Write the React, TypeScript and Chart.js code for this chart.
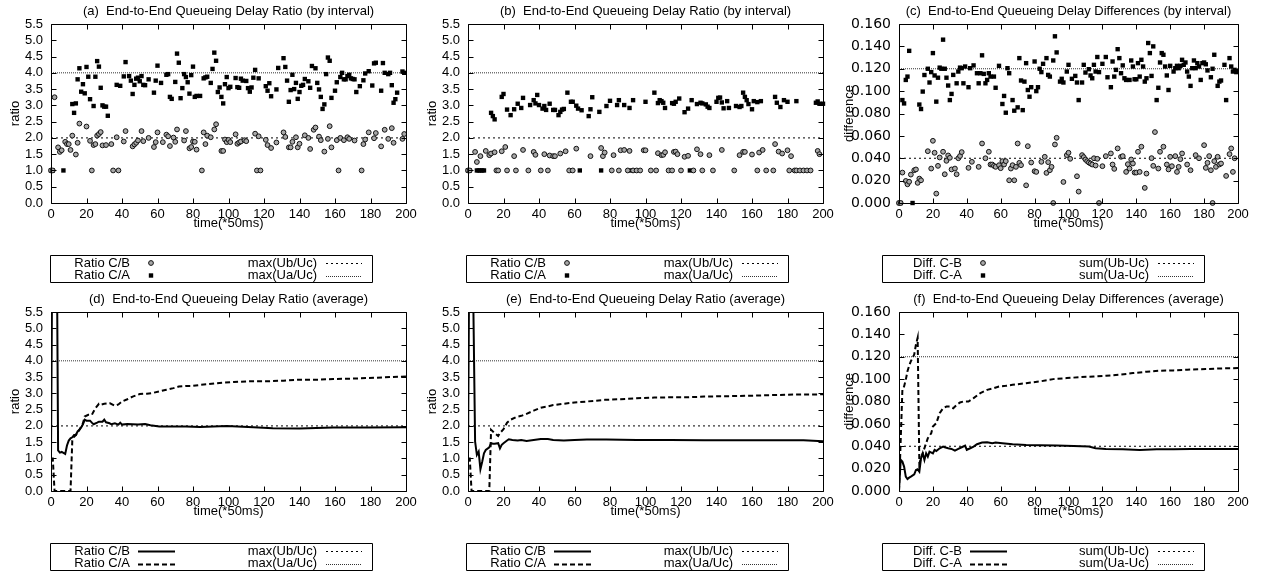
import React, { useEffect, useRef } from 'react';
import { Chart, registerables } from 'chart.js';

Chart.register(...registerables);

type Pt = [number, number];

// ---------- tick / reference values ----------
const X_TICK_STEP = 20;
const X_MAX = 200;
const RATIO_MAX = 5.5;
const RATIO_STEP = 0.5;
const DIFF_MAX = 0.16;
const DIFF_STEP = 0.02;
const RATIO_REF_UB = 2.0;
const RATIO_REF_UA = 4.0;
const DIFF_REF_UB = 0.04;
const DIFF_REF_UA = 0.12;

// ---------- (a) ratio by interval ----------
const aRatioCB: Pt[] = [[0,1.0],[1,1.0],[2,3.25],[4,1.71],[5,1.57],[6,1.62],[8,1.88],[9,1.81],[10,1.81],[11,1.63],[12,2.07],[14,1.49],[15,1.85],[16,2.44],[20,2.35],[22,1.91],[23,1.0],[24,1.78],[25,1.81],[26,2.07],[27,2.12],[28,2.18],[29,1.77],[31,1.78],[34,1.81],[35,1.0],[37,2.02],[38,1.0],[41,1.89],[42,2.21],[46,1.74],[47,1.8],[48,1.85],[49,1.92],[51,2.21],[52,1.9],[55,2.0],[58,1.72],[59,1.87],[60,2.17],[63,1.87],[65,2.1],[66,2.05],[67,1.75],[69,2.01],[70,1.88],[71,2.26],[75,1.92],[76,2.21],[78,1.68],[79,1.72],[80,1.89],[81,1.88],[82,1.64],[85,1.0],[86,2.17],[87,1.81],[88,2.07],[90,2.02],[92,2.26],[93,2.42],[96,1.6],[97,1.6],[98,1.95],[99,1.87],[100,1.94],[101,1.87],[104,2.11],[105,1.82],[106,1.86],[107,1.89],[109,1.93],[110,1.9],[115,2.13],[116,1.0],[117,2.05],[118,1.0],[121,1.94],[122,1.78],[124,1.69],[127,1.86],[131,2.17],[132,2.03],[134,1.71],[135,1.71],[136,1.88],[138,2.02],[139,1.71],[140,1.82],[143,2.08],[145,2.0],[146,1.66],[148,2.25],[149,2.32],[151,2.04],[152,1.93],[154,1.58],[156,1.97],[157,2.36],[158,1.71],[161,1.93],[162,1.0],[163,2.0],[165,1.93],[167,2.02],[168,1.97],[171,1.92],[175,1.0],[176,1.81],[177,1.95],[179,2.17],[182,1.99],[183,2.15],[186,1.74],[188,2.25],[190,1.97],[192,2.3],[193,1.85],[198,1.97],[199,2.12]];
const aRatioCA: Pt[] = [[0,1.0],[1,1.0],[7,1.0],[12,3.04],[13,2.77],[14,3.06],[15,3.8],[16,4.14],[17,3.42],[18,3.65],[19,3.37],[20,4.18],[21,3.88],[22,3.19],[24,2.98],[25,3.88],[26,4.36],[27,4.19],[28,3.54],[29,3.0],[30,2.96],[31,2.96],[32,2.68],[37,3.63],[39,3.6],[41,3.89],[42,4.33],[44,3.9],[45,3.76],[46,3.35],[47,3.63],[48,3.82],[49,3.85],[50,3.74],[51,3.9],[52,3.63],[53,3.62],[55,3.8],[58,3.39],[59,3.76],[60,4.22],[62,3.69],[65,3.94],[66,3.96],[67,3.26],[68,3.2],[70,3.72],[71,4.59],[72,4.31],[73,3.22],[74,3.53],[75,3.96],[76,3.87],[77,3.71],[78,3.36],[79,3.93],[80,4.19],[81,3.26],[82,3.29],[84,3.29],[86,3.83],[87,3.86],[88,3.88],[90,3.69],[91,4.12],[92,4.62],[93,4.37],[94,3.41],[95,3.55],[96,3.26],[97,3.06],[98,3.65],[99,3.87],[100,3.53],[101,3.57],[104,3.84],[105,3.56],[106,3.54],[107,3.82],[108,3.76],[110,3.75],[111,3.53],[112,3.42],[113,3.55],[114,3.85],[115,4.09],[117,3.83],[121,3.59],[122,3.45],[123,3.68],[124,3.28],[127,3.49],[128,4.15],[131,4.45],[132,4.18],[133,3.76],[134,3.11],[135,3.47],[136,3.94],[137,3.5],[138,3.69],[139,3.2],[140,3.41],[141,3.6],[142,3.63],[143,3.81],[145,3.74],[146,3.54],[147,4.21],[149,4.14],[150,3.69],[151,3.49],[152,3.26],[153,2.89],[154,3.03],[155,3.96],[156,4.47],[157,4.37],[158,3.23],[160,3.45],[161,3.71],[163,3.87],[164,4.0],[165,3.8],[166,3.8],[167,3.9],[168,3.94],[169,3.83],[170,3.81],[171,3.8],[172,3.41],[174,3.59],[176,3.77],[177,3.98],[179,4.05],[181,3.61],[182,4.29],[183,4.31],[186,3.45],[187,4.3],[188,4.0],[190,3.96],[191,4.0],[192,3.62],[193,3.08],[194,3.19],[195,3.39],[198,4.04],[199,4.0]];

// ---------- (b) ratio by interval ----------
const bRatioCB: Pt[] = [[0,1.0],[1,1.0],[4,1.57],[5,1.26],[7,1.44],[10,1.6],[12,1.47],[13,1.52],[15,1.56],[16,1.0],[17,1.0],[19,1.59],[21,1.72],[22,1.0],[26,1.44],[27,1.0],[31,1.63],[34,1.0],[37,1.57],[38,1.48],[41,1.0],[43,1.5],[45,1.0],[46,1.46],[48,1.44],[49,1.44],[52,1.52],[55,1.59],[57,1.0],[59,1.0],[61,1.67],[69,1.44],[75,1.69],[76,1.44],[77,1.55],[81,1.0],[82,1.47],[85,1.0],[86,1.62],[88,1.63],[90,1.0],[91,1.6],[93,1.0],[95,1.0],[97,1.0],[99,1.62],[100,1.62],[103,1.0],[106,1.0],[107,1.53],[109,1.47],[110,1.48],[111,1.56],[113,1.0],[115,1.0],[116,1.57],[117,1.58],[118,1.5],[120,1.0],[122,1.42],[124,1.45],[127,1.0],[129,1.65],[131,1.5],[132,1.0],[136,1.47],[138,1.0],[143,1.63],[150,1.0],[153,1.47],[155,1.57],[156,1.57],[160,1.49],[163,1.0],[164,1.55],[166,1.63],[168,1.0],[172,1.0],[173,1.81],[175,1.58],[177,1.52],[180,1.62],[181,1.0],[182,1.44],[184,1.0],[185,1.0],[187,1.0],[189,1.0],[191,1.0],[193,1.0],[197,1.6],[198,1.5]];
const bRatioCA: Pt[] = [[0,1.0],[1,1.0],[5,1.0],[6,1.0],[7,1.0],[8,1.0],[9,1.0],[13,2.77],[14,2.67],[15,2.57],[19,3.26],[20,3.35],[22,2.87],[24,2.7],[26,2.88],[28,3.05],[30,2.92],[31,3.23],[35,3.01],[37,3.16],[38,3.06],[39,3.32],[40,3.01],[42,2.9],[43,2.98],[44,2.86],[46,3.05],[48,2.86],[49,2.86],[51,2.7],[52,2.8],[53,2.87],[54,2.89],[56,3.39],[58,3.11],[59,3.11],[61,2.99],[62,2.9],[63,1.0],[64,2.85],[68,2.67],[69,2.88],[70,3.25],[74,2.8],[75,1.0],[78,2.98],[80,3.14],[84,3.01],[85,3.16],[88,3.01],[91,2.92],[92,1.0],[93,3.16],[100,3.11],[105,3.39],[107,3.07],[108,3.16],[109,3.13],[110,3.08],[111,2.92],[115,3.07],[116,3.05],[117,3.11],[119,3.21],[122,2.79],[124,2.9],[125,1.0],[126,3.16],[129,3.04],[131,3.08],[132,3.06],[134,3.03],[135,2.96],[136,2.92],[140,3.11],[141,3.23],[142,3.24],[143,3.09],[144,2.91],[146,3.13],[147,2.92],[151,2.98],[153,2.95],[154,2.98],[155,3.39],[156,3.26],[157,3.16],[158,3.04],[160,2.88],[161,3.13],[163,3.1],[165,3.13],[173,3.26],[174,3.08],[176,2.95],[178,3.16],[180,3.11],[185,3.13],[196,3.08],[197,3.12],[198,3.05],[200,3.05]];

// ---------- (c) difference by interval ----------
const cDiffCB: Pt[] = [[0,0],[1,0],[2,0.0272],[4,0.0197],[5,0.0167],[6,0.019],[7,0.0254],[9,0.0293],[10,0.03],[11,0.018],[12,0.0218],[13,0.0203],[17,0.0463],[19,0.0308],[20,0.0556],[21,0.0449],[22,0.0084],[23,0.0332],[24,0.0407],[26,0.0458],[27,0.0257],[28,0.0377],[29,0.0425],[30,0.0404],[31,0.03],[33,0.0308],[34,0.0257],[35,0.04],[36,0.042],[37,0.0455],[41,0.0314],[43,0.0368],[47,0.0323],[49,0.0532],[51,0.04],[53,0.0458],[54,0.0344],[55,0.0344],[56,0.0332],[57,0.0323],[59,0.0338],[60,0.0311],[61,0.0374],[62,0.0344],[63,0.0374],[65,0.0203],[66,0.0308],[67,0.0338],[68,0.0203],[69,0.0323],[70,0.0532],[71,0.0359],[72,0.0338],[75,0.0158],[76,0.0508],[78,0.0362],[80,0.0284],[81,0.0278],[84,0.0368],[86,0.0413],[87,0.0269],[88,0.0365],[89,0.0293],[90,0.0323],[91,0],[92,0.0523],[93,0.0583],[97,0.0188],[99,0.0428],[100,0.0449],[101,0.0395],[105,0.0239],[106,0.0102],[108,0.0428],[109,0.041],[110,0.0389],[111,0.0374],[112,0.0362],[113,0.0353],[114,0.0344],[115,0.04],[116,0.0335],[117,0.0395],[118,0],[120,0.0329],[122,0.0419],[125,0.0443],[126,0.0344],[127,0.0305],[129,0.0488],[131,0.0413],[132,0.0419],[134,0.0278],[135,0.0347],[136,0.0308],[137,0.0389],[138,0.0353],[139,0.0272],[140,0.0272],[141,0.0458],[142,0.0278],[143,0.0503],[145,0.0135],[146,0.0263],[149,0.0401],[150,0.0332],[151,0.0634],[153,0.0308],[154,0.0458],[156,0.0503],[158,0.0344],[159,0.03],[160,0.0413],[161,0.0329],[163,0.0419],[164,0.0278],[165,0.0323],[166,0.0392],[167,0.0443],[170,0.0344],[172,0.0293],[175,0.0428],[177,0.04],[180,0.0517],[181,0.0314],[182,0.0359],[183,0.0419],[184,0.0293],[185,0],[186,0.0374],[187,0.0323],[188,0.0413],[189,0.0344],[190,0.0353],[193,0.0242],[195,0.0437],[196,0.0488],[197,0.0278],[198,0.04]];
const cDiffCA: Pt[] = [[0,0],[1,0],[2,0.092],[3,0.089],[4,0.11],[5,0.113],[6,0.136],[8,0],[12,0.088],[13,0.084],[14,0.0996],[15,0.1144],[17,0.12],[18,0.1077],[19,0.117],[20,0.134],[21,0.114],[22,0.0906],[23,0.112],[24,0.121],[25,0.12],[26,0.146],[27,0.12],[28,0.112],[29,0.105],[30,0.092],[31,0.0975],[32,0.1145],[34,0.107],[35,0.1175],[36,0.121],[37,0.1205],[38,0.107],[39,0.122],[41,0.1035],[42,0.1205],[44,0.123],[46,0.116],[47,0.107],[48,0.116],[49,0.132],[50,0.1154],[51,0.107],[52,0.11],[53,0.116],[54,0.113],[56,0.113],[57,0.103],[59,0.1226],[61,0.0885],[62,0.0957],[63,0.0807],[64,0.1205],[65,0.116],[67,0.092],[68,0.0825],[70,0.0855],[71,0.1295],[72,0.1095],[73,0.083],[74,0.1085],[75,0.125],[76,0.101],[77,0.095],[78,0.1035],[80,0.1265],[81,0.1],[82,0.1035],[83,0.12],[84,0.117],[85,0.1244],[87,0.1295],[88,0.1145],[89,0.113],[91,0.1274],[92,0.149],[93,0.1346],[95,0.1085],[96,0.111],[97,0.1077],[99,0.1175],[100,0.1235],[102,0.111],[104,0.1136],[105,0.1077],[106,0.092],[108,0.1077],[109,0.1235],[110,0.1166],[112,0.1196],[113,0.114],[114,0.1115],[115,0.1235],[116,0.1175],[117,0.1305],[118,0.117],[120,0.1244],[122,0.1305],[123,0.1124],[125,0.1035],[126,0.1265],[127,0.113],[128,0.119],[129,0.1375],[130,0.1295],[131,0.116],[132,0.123],[133,0.1115],[134,0.11],[136,0.11],[137,0.1274],[138,0.122],[139,0.1106],[140,0.1106],[141,0.125],[142,0.113],[143,0.128],[144,0.122],[145,0.1085],[146,0.1115],[147,0.143],[148,0.134],[149,0.1136],[150,0.14],[152,0.092],[153,0.103],[154,0.1256],[155,0.134],[156,0.1325],[157,0.122],[158,0.114],[159,0.101],[160,0.1226],[162,0.1175],[163,0.1205],[164,0.1226],[165,0.1205],[166,0.1226],[167,0.128],[168,0.1235],[169,0.1256],[170,0.1175],[171,0.113],[172,0.1047],[173,0.1205],[174,0.1274],[175,0.1205],[176,0.125],[177,0.122],[178,0.11],[179,0.125],[180,0.1256],[181,0.124],[182,0.1185],[184,0.1124],[185,0.12],[186,0.1325],[188,0.1047],[189,0.1085],[190,0.1095],[192,0.1235],[193,0.092],[195,0.1295],[196,0.122],[197,0.1175],[198,0.119],[199,0.117]];

// ---------- (d) ratio average ----------
const dAvgCB: Pt[] = [[0,1.0],[1,10],[3,10],[4,1.25],[5,1.18],[6,1.2],[7,1.17],[8,1.14],[9,1.4],[10,1.55],[11,1.62],[12,1.65],[13,1.72],[14,1.72],[15,1.83],[16,1.88],[17,1.95],[18,2.05],[19,2.19],[20,2.16],[22,2.16],[23,2.1],[24,2.05],[26,2.1],[27,2.13],[29,2.13],[30,2.19],[31,2.11],[33,2.08],[34,2.05],[36,2.08],[38,2.04],[39,2.1],[40,2.04],[43,2.06],[46,2.05],[49,2.04],[53,2.06],[56,2.02],[61,1.98],[69,1.98],[76,1.98],[84,1.97],[99,2.0],[114,1.96],[125,1.93],[140,1.92],[159,1.95],[178,1.95],[200,1.96]];
const dAvgCA: Pt[] = [[0,1.0],[1,1.0],[2,0],[11,0],[12,1.55],[13,1.67],[14,1.72],[16,1.88],[18,2.08],[19,2.29],[21,2.34],[23,2.34],[24,2.44],[25,2.54],[27,2.68],[28,2.65],[30,2.68],[33,2.7],[36,2.62],[38,2.66],[40,2.75],[43,2.82],[46,2.9],[50,2.98],[54,2.99],[57,3.01],[61,3.06],[65,3.11],[69,3.16],[72,3.21],[76,3.23],[80,3.23],[84,3.26],[88,3.28],[93,3.31],[103,3.35],[112,3.37],[121,3.37],[131,3.39],[140,3.42],[150,3.42],[159,3.44],[168,3.45],[178,3.47],[187,3.49],[200,3.52]];

// ---------- (e) ratio average ----------
const eAvgCB: Pt[] = [[0,1.0],[1,10],[2,10],[4,1.52],[5,1.11],[6,1.21],[7,0.67],[8,0.9],[9,1.16],[10,1.26],[12,1.34],[13,1.47],[14,1.45],[15,1.45],[17,1.47],[18,1.31],[19,1.42],[20,1.47],[22,1.55],[23,1.59],[25,1.57],[28,1.55],[30,1.57],[33,1.54],[37,1.57],[41,1.6],[45,1.6],[48,1.57],[54,1.55],[60,1.57],[67,1.58],[78,1.58],[95,1.57],[114,1.57],[133,1.56],[152,1.56],[171,1.56],[189,1.56],[200,1.53]];
const eAvgCA: Pt[] = [[0,1.0],[1,1.0],[2,0],[12,0],[13,1.88],[14,1.83],[15,1.78],[17,1.69],[18,1.78],[20,1.9],[22,2.1],[24,2.19],[27,2.27],[30,2.31],[33,2.37],[37,2.47],[41,2.56],[45,2.6],[48,2.64],[54,2.68],[60,2.72],[67,2.75],[77,2.8],[86,2.82],[95,2.85],[105,2.87],[114,2.88],[124,2.88],[133,2.9],[142,2.91],[152,2.92],[161,2.93],[180,2.96],[200,2.97]];

// ---------- (f) difference average ----------
const fAvgCB: Pt[] = [[0,0],[1,0.0278],[2,0.0263],[3,0.0218],[4,0.0128],[5,0.0107],[6,0.0119],[7,0.0128],[9,0.0149],[10,0.0188],[11,0.0194],[12,0.0173],[13,0.0293],[14,0.0337],[15,0.0278],[16,0.0337],[17,0.0307],[18,0.0352],[20,0.0337],[21,0.0367],[22,0.0358],[24,0.0382],[26,0.0397],[27,0.0391],[29,0.0382],[31,0.0376],[33,0.0361],[35,0.0376],[37,0.0391],[39,0.0406],[40,0.0367],[42,0.0382],[44,0.0397],[46,0.0418],[49,0.0433],[52,0.0436],[55,0.0427],[57,0.0433],[61,0.0427],[67,0.0418],[75,0.0412],[83,0.0409],[93,0.0406],[103,0.0403],[112,0.0397],[116,0.0382],[122,0.0376],[132,0.0373],[142,0.0367],[152,0.0373],[162,0.0373],[172,0.0376],[181,0.0376],[200,0.0376]];
const fAvgCA: Pt[] = [[0,0],[2,0.0904],[3,0.0934],[4,0.0994],[5,0.107],[6,0.112],[7,0.116],[9,0.122],[10,0.131],[11,0.137],[12,0.0248],[14,0.0337],[16,0.0427],[17,0.0472],[19,0.0516],[20,0.0576],[22,0.0606],[24,0.0696],[26,0.074],[28,0.0755],[30,0.0755],[32,0.074],[34,0.077],[36,0.0791],[38,0.08],[41,0.08],[44,0.083],[48,0.0875],[52,0.0904],[56,0.0919],[59,0.0934],[63,0.094],[67,0.0949],[75,0.0964],[83,0.0979],[91,0.1],[99,0.1009],[107,0.1018],[115,0.1024],[122,0.103],[130,0.1039],[138,0.1054],[146,0.1066],[154,0.1075],[162,0.1078],[170,0.1084],[181,0.109],[191,0.1096],[200,0.1099]];

// ---------- labels ----------
const RATIO_LABELS = ['Ratio C/B', 'Ratio C/A', 'max(Ub/Uc)', 'max(Ua/Uc)'];
const DIFF_LABELS = ['Diff. C-B', 'Diff. C-A', 'sum(Ub-Uc)', 'sum(Ua-Uc)'];

const FONT = '"Liberation Sans", Arial, Helvetica, sans-serif';
const WIDE_FONT = '"DejaVu Sans", "Liberation Sans", sans-serif';

const toXY = (pts: Pt[]) => pts.map(([x, y]) => ({ x, y }));

function circleSet(label: string, pts: Pt[]) {
  return { label, kind: 'circle', data: toXY(pts), showLine: false, pointStyle: 'circle', pointRadius: 2.4,
    borderColor: '#111', backgroundColor: '#a8a8a8', borderWidth: 1, clip: false };
}
function squareSet(label: string, pts: Pt[]) {
  return { label, kind: 'square', data: toXY(pts), showLine: false, pointStyle: 'rect', pointRadius: 3.1,
    borderColor: '#000', backgroundColor: '#000', borderWidth: 0, clip: false };
}
function lineSet(label: string, pts: Pt[], dash: number[], width: number, color = '#000') {
  return { label, kind: 'line', data: toXY(pts), showLine: true, pointRadius: 0, borderColor: color,
    backgroundColor: color, borderWidth: width, borderDash: dash };
}

const gpPlugin = {
  id: 'gp',
  afterDraw(chart: any, _args: any, opts: any) {
    const { ctx, chartArea, scales } = chart;
    const { left, right, top, bottom } = chartArea;
    const L = Math.round(left) + 0.5, R = Math.round(right) + 0.5;
    const T = Math.round(top) + 0.5, B = Math.round(bottom) + 0.5;
    ctx.save();
    ctx.strokeStyle = '#000';
    ctx.lineWidth = 1;
    ctx.setLineDash([]);
    ctx.beginPath();
    ctx.rect(L, T, R - L, B - T);
    const tl = 5;
    scales.x.ticks.forEach((t: any) => {
      const px = Math.round(scales.x.getPixelForValue(t.value)) + 0.5;
      ctx.moveTo(px, B); ctx.lineTo(px, B - tl);
      ctx.moveTo(px, T); ctx.lineTo(px, T + tl);
    });
    scales.y.ticks.forEach((t: any) => {
      const py = Math.round(scales.y.getPixelForValue(t.value)) + 0.5;
      ctx.moveTo(L, py); ctx.lineTo(L + tl, py);
      ctx.moveTo(R, py); ctx.lineTo(R - tl, py);
    });
    ctx.stroke();

    // title
    ctx.fillStyle = '#000';
    ctx.font = `13px ${FONT}`;
    ctx.textAlign = 'center';
    ctx.textBaseline = 'middle';
    ctx.fillText(opts.title, (left + right) / 2, opts.titleY);

    // legend box
    const bx = opts.legendX + 0.5, by = opts.legendY + 0.5;
    ctx.beginPath();
    ctx.rect(bx, by, 322, 27);
    ctx.stroke();
    const rows = [opts.legendY + 8, opts.legendY + 20.5];
    const dsets = chart.data.datasets;
    dsets.forEach((ds: any, i: number) => {
      const col = i < 2 ? 0 : 1;
      const ry = rows[i % 2];
      const textRight = opts.legendX + (col === 0 ? 80 : 267);
      ctx.fillStyle = '#000';
      ctx.textAlign = 'right';
      ctx.textBaseline = 'middle';
      ctx.font = `13px ${FONT}`;
      ctx.fillText(ds.label, textRight, ry);
      const s0 = opts.legendX + (col === 0 ? 88 : 276);
      const s1 = opts.legendX + (col === 0 ? 125 : 312);
      if (ds.kind === 'line') {
        ctx.save();
        ctx.strokeStyle = ds.borderColor;
        ctx.lineWidth = ds.borderWidth;
        ctx.setLineDash(ds.borderDash || []);
        ctx.beginPath();
        ctx.moveTo(s0, Math.round(ry) + 0.5);
        ctx.lineTo(s1, Math.round(ry) + 0.5);
        ctx.stroke();
        ctx.restore();
      } else if (ds.kind === 'circle') {
        const cx = opts.legendX + 101;
        ctx.beginPath();
        ctx.arc(cx, ry, ds.pointRadius, 0, Math.PI * 2);
        ctx.fillStyle = ds.backgroundColor;
        ctx.fill();
        ctx.strokeStyle = ds.borderColor;
        ctx.lineWidth = 1;
        ctx.stroke();
      } else {
        const cx = opts.legendX + 101;
        const h = ds.pointRadius * Math.SQRT1_2;
        ctx.fillStyle = '#000';
        ctx.fillRect(cx - h, ry - h, 2 * h, 2 * h);
      }
    });
    ctx.restore();
  },
};

interface PanelProps {
  left: number; top: number; plotLeft: number; plotRight: number;
  title: string; yLabel: string; yLabelX: number; yMax: number; yStep: number; yDec: number;
  yTickFont: any; datasets: any[]; legendX: number;
}

const W = 421, H = 288, PLOT_TOP = 24, PLOT_BOTTOM = 203, X_AXIS_H = 28;

function Panel(p: PanelProps) {
  const ref = useRef<HTMLCanvasElement | null>(null);
  useEffect(() => {
    if (!ref.current) return;
    const chart = new Chart(ref.current, {
      type: 'scatter',
      data: { datasets: p.datasets },
      plugins: [gpPlugin as any],
      options: {
        animation: false,
        responsive: false,
        devicePixelRatio: 1,
        events: [],
        layout: { padding: { left: 0, top: PLOT_TOP, right: W - p.plotRight, bottom: H - PLOT_BOTTOM - X_AXIS_H } },
        plugins: {
          legend: { display: false },
          tooltip: { enabled: false },
          title: { display: false },
          gp: { title: p.title, titleY: 11, legendX: p.legendX, legendY: 255 },
        } as any,
        scales: {
          x: {
            type: 'linear', min: 0, max: X_MAX,
            grid: { display: false, drawTicks: false }, border: { display: false },
            ticks: { stepSize: X_TICK_STEP, padding: 4, color: '#000', maxRotation: 0, autoSkip: false,
              font: { size: 13, family: FONT } },
            title: { display: true, text: 'time(*50ms)', color: '#000', padding: { top: 0, bottom: 0 },
              font: { size: 13, family: FONT } },
            afterFit: (s: any) => { s.height = X_AXIS_H; },
          },
          y: {
            type: 'linear', min: 0, max: p.yMax,
            grid: { display: false, drawTicks: false }, border: { display: false },
            ticks: { stepSize: p.yStep, padding: 8, color: '#000', autoSkip: false,
              font: p.yTickFont,
              callback: (v: any) => Number(v).toFixed(p.yDec) },
            title: { display: true, text: p.yLabel, color: '#000', padding: { top: p.yLabelX - 7.8, bottom: 0 },
              font: { size: 13, family: FONT } },
            afterFit: (s: any) => { s.width = p.plotLeft; },
          },
        },
      } as any,
    });
    return () => chart.destroy();
  }, []);
  return <canvas ref={ref} width={W} height={H}
    style={{ position: 'absolute', left: p.left, top: p.top, width: W, height: H }} />;
}

const ratioRefs = () => [
  lineSet(RATIO_LABELS[2], [[0, RATIO_REF_UB], [X_MAX, RATIO_REF_UB]], [2, 3], 1, '#000'),
  lineSet(RATIO_LABELS[3], [[0, RATIO_REF_UA], [X_MAX, RATIO_REF_UA]], [1, 1], 1, '#333'),
];
const diffRefs = () => [
  lineSet(DIFF_LABELS[2], [[0, DIFF_REF_UB], [X_MAX, DIFF_REF_UB]], [2, 3], 1, '#000'),
  lineSet(DIFF_LABELS[3], [[0, DIFF_REF_UA], [X_MAX, DIFF_REF_UA]], [1, 1], 1, '#333'),
];

export default function App() {
  const ratioAxis = { yLabel: 'ratio', yMax: RATIO_MAX, yStep: RATIO_STEP, yDec: 1,
    yTickFont: { size: 13, family: FONT } };
  const diffAxis = { yLabel: 'difference', yMax: DIFF_MAX, yStep: DIFF_STEP, yDec: 3,
    yTickFont: { size: 14, family: WIDE_FONT } };
  return (
    <div style={{ position: 'absolute', left: 0, top: 0, width: 1263, height: 575, background: '#fff' }}>
      <Panel left={0} top={0} plotLeft={51} plotRight={406} legendX={50} yLabelX={15} {...ratioAxis}
        title="(a)  End-to-End Queueing Delay Ratio (by interval)"
        datasets={[circleSet(RATIO_LABELS[0], aRatioCB), squareSet(RATIO_LABELS[1], aRatioCA), ...ratioRefs()]} />
      <Panel left={421} top={0} plotLeft={47} plotRight={402} legendX={45} yLabelX={11} {...ratioAxis}
        title="(b)  End-to-End Queueing Delay Ratio (by interval)"
        datasets={[circleSet(RATIO_LABELS[0], bRatioCB), squareSet(RATIO_LABELS[1], bRatioCA), ...ratioRefs()]} />
      <Panel left={842} top={0} plotLeft={57} plotRight={396} legendX={40} yLabelX={7} {...diffAxis}
        title="(c)  End-to-End Queueing Delay Differences (by interval)"
        datasets={[circleSet(DIFF_LABELS[0], cDiffCB), squareSet(DIFF_LABELS[1], cDiffCA), ...diffRefs()]} />
      <Panel left={0} top={288} plotLeft={51} plotRight={406} legendX={50} yLabelX={15} {...ratioAxis}
        title="(d)  End-to-End Queueing Delay Ratio (average)"
        datasets={[lineSet(RATIO_LABELS[0], dAvgCB, [], 2), lineSet(RATIO_LABELS[1], dAvgCA, [5, 3], 2), ...ratioRefs()]} />
      <Panel left={421} top={288} plotLeft={47} plotRight={402} legendX={45} yLabelX={11} {...ratioAxis}
        title="(e)  End-to-End Queueing Delay Ratio (average)"
        datasets={[lineSet(RATIO_LABELS[0], eAvgCB, [], 2), lineSet(RATIO_LABELS[1], eAvgCA, [5, 3], 2), ...ratioRefs()]} />
      <Panel left={842} top={288} plotLeft={57} plotRight={396} legendX={40} yLabelX={7} {...diffAxis}
        title="(f)  End-to-End Queueing Delay Differences (average)"
        datasets={[lineSet(DIFF_LABELS[0], fAvgCB, [], 2), lineSet(DIFF_LABELS[1], fAvgCA, [5, 3], 2), ...diffRefs()]} />
    </div>
  );
}
